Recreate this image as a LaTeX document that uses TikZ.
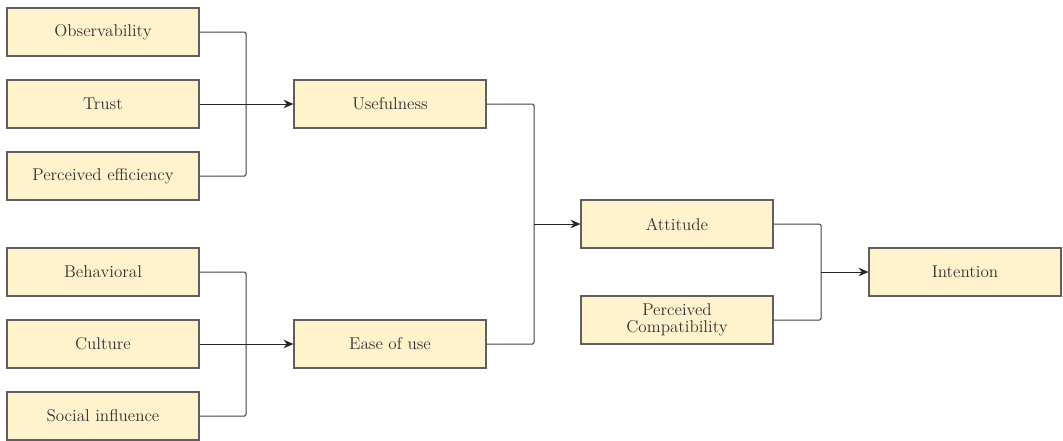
\documentclass[tikz,border=0pt]{standalone}
\usetikzlibrary{arrows.meta}
\definecolor{boxfill}{HTML}{FFF2CC}
\definecolor{boxline}{HTML}{5F5F5F}
\begin{document}
\begin{tikzpicture}[x=0.75pt,y=-0.75pt,
  box/.style={draw=boxline, line width=0.8pt, fill=boxfill, minimum width=144pt, minimum height=36pt, inner sep=1pt, align=center, font=\rmfamily\fontsize{12.8}{12.8}\selectfont, text=black!80},
  link/.style={draw=black!75, line width=0.75pt, rounded corners=1pt},
  arr/.style={link, draw=black!85, -{Stealth[length=7.5pt,width=6.5pt]}}]
\useasboundingbox (0,0) rectangle (1063,440);
% inputs
\node [box] (obs) at (103,32) {Observability};
\node [box] (trust) at (103,104) {Trust};
\node [box] (eff) at (103,176) {Perceived efficiency};
\node [box] (beh) at (103,272) {Behavioral};
\node [box] (cult) at (103,344) {Culture};
\node [box] (soc) at (103,416) {Social influence};
% middle
\node [box] (use) at (390,104) {Usefulness};
\node [box] (ease) at (390,344) {Ease of use};
\node [box] (att) at (677,224) {Attitude};
\node [box] (comp) at (677,320) {Perceived\\Compatibility};
\node [box] (int) at (965,272) {Intention};
% junctions
\coordinate (j1) at (246,104);
\coordinate (j2) at (246,344);
\coordinate (j3) at (534,224);
\coordinate (j4) at (821,272);
\draw [link] (obs.east) -| (j1);
\draw [link] (eff.east) -| (j1);
\draw [arr] (trust) -- (use);
\draw [link] (beh.east) -| (j2);
\draw [link] (soc.east) -| (j2);
\draw [arr] (cult) -- (ease);
\draw [link] (use.east) -| (j3);
\draw [link] (ease.east) -| (j3);
\draw [arr] (j3) -- (att);
\draw [link] (att.east) -| (j4);
\draw [link] (comp.east) -| (j4);
\draw [arr] (j4) -- (int);
\end{tikzpicture}
\end{document}
